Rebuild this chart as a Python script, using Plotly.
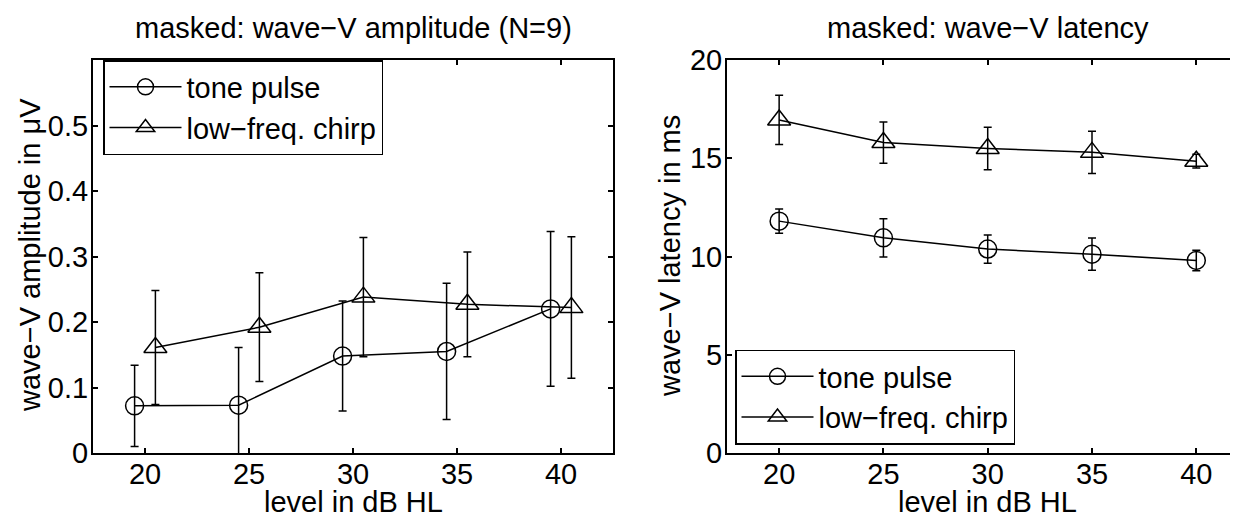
import plotly.graph_objects as go

# levels in dB HL
levels = [20, 25, 30, 35, 40]

# wave-V amplitude in uV (mean, std)
amp_tone = [0.072, 0.073, 0.148, 0.155, 0.220]
amp_tone_err = [0.062, 0.088, 0.084, 0.104, 0.118]
amp_chirp = [0.161, 0.192, 0.238, 0.227, 0.222]
amp_chirp_err = [0.087, 0.083, 0.091, 0.080, 0.108]

# wave-V latency in ms (mean, std)
lat_tone = [11.80, 10.95, 10.38, 10.12, 9.80]
lat_tone_err = [0.62, 0.97, 0.72, 0.82, 0.52]
lat_chirp = [16.95, 15.80, 15.50, 15.30, 14.85]
lat_chirp_err = [1.25, 1.05, 1.08, 1.08, 0.35]

amp_ticks = [0, 0.1, 0.2, 0.3, 0.4, 0.5]
lat_ticks = [0, 5, 10, 15, 20]

FONT = "Liberation Sans, Arial, Helvetica, sans-serif"
FS = 29

fig = go.Figure()

def add_series(x, y, err, sym, name, xa, ya, leg):
    fig.add_trace(go.Scatter(
        x=x, y=y, name=name, mode='lines+markers',
        xaxis=xa, yaxis=ya, legend=leg,
        line=dict(color='black', width=1.5),
        marker=dict(symbol=sym, size=18 if sym == 'circle-open' else 20,
                    color='black', line=dict(width=1.5, color='black')),
        error_y=dict(type='data', array=err, visible=True,
                     color='black', thickness=1.5, width=4),
    ))

# left: slight x offset so the bars do not overlap
add_series([l - 0.5 for l in levels], amp_tone, amp_tone_err, 'circle-open', 'tone pulse', 'x', 'y', 'legend')
add_series([l + 0.5 for l in levels], amp_chirp, amp_chirp_err, 'triangle-up-open', 'low\u2212freq. chirp', 'x', 'y', 'legend')
# right
add_series(levels, lat_tone, lat_tone_err, 'circle-open', 'tone pulse', 'x2', 'y2', 'legend2')
add_series(levels, lat_chirp, lat_chirp_err, 'triangle-up-open', 'low\u2212freq. chirp', 'x2', 'y2', 'legend2')

ax = dict(showline=True, linecolor='black', linewidth=2, ticks='inside',
          ticklen=5, tickwidth=1.5, tickcolor='black', showgrid=False,
          zeroline=False, tickfont=dict(family=FONT, size=FS, color='black'))

# page body has an 8px margin, so the figure is 8px smaller and shifted
OFF = 8
L, W, T, H = 93 - OFF, 1145, 60 - OFF, 393
FW, FH = 1238 - OFF, 518 - OFF

legend_style = dict(bgcolor='white', bordercolor='black', borderwidth=1.5,
                    font=dict(size=FS), tracegroupgap=0, itemwidth=72)

fig.update_layout(
    width=FW, height=FH,
    margin=dict(l=L, r=0, t=T, b=FH - T - H),
    paper_bgcolor='white', plot_bgcolor='white',
    font=dict(family=FONT, size=FS, color='black'),
    xaxis=dict(ax, domain=[0, 520 / W], range=[17.5, 42.5], tickvals=levels,
               mirror='ticks', anchor='y', ticklabelstandoff=-6),
    yaxis=dict(ax, domain=[0, 1], range=[0, 0.6], tickvals=amp_ticks,
               mirror='ticks', anchor='x', ticklabelstandoff=-3),
    xaxis2=dict(ax, domain=[634 / W, 1], range=[17.5, 42.0], tickvals=levels,
                mirror='ticks', anchor='y2', ticklabelstandoff=-6),
    yaxis2=dict(ax, domain=[0, 1], range=[0, 20], tickvals=lat_ticks,
                mirror=False, anchor='x2', ticklabelstandoff=-3),
    legend=dict(legend_style, x=10 / W, y=1, xanchor='left', yanchor='top'),
    legend2=dict(legend_style, x=642 / W, y=8.5 / H, xanchor='left', yanchor='bottom'),
    showlegend=True,
)

def note(text, x, y, angle=0):
    fig.add_annotation(text=text, x=x, y=y, xref='paper', yref='paper',
                       showarrow=False, textangle=angle,
                       xanchor='center', yanchor='middle',
                       font=dict(family=FONT, size=FS, color='black'))

note('masked: wave\u2212V amplitude (N=9)', 260 / W, (H + 32) / H)
note('masked: wave\u2212V latency', (634 + 1155) / 2 / W, (H + 32) / H)
note('level in dB HL', 260 / W, -49 / H)
note('level in dB HL', (634 + 1155) / 2 / W, -49 / H)
note('wave\u2212V amplitude in \u03bcV', -63 / W, 198 / H, -90)
note('wave\u2212V latency in ms', 577 / W, 197 / H, -90)

fig.write_html("out.html")
